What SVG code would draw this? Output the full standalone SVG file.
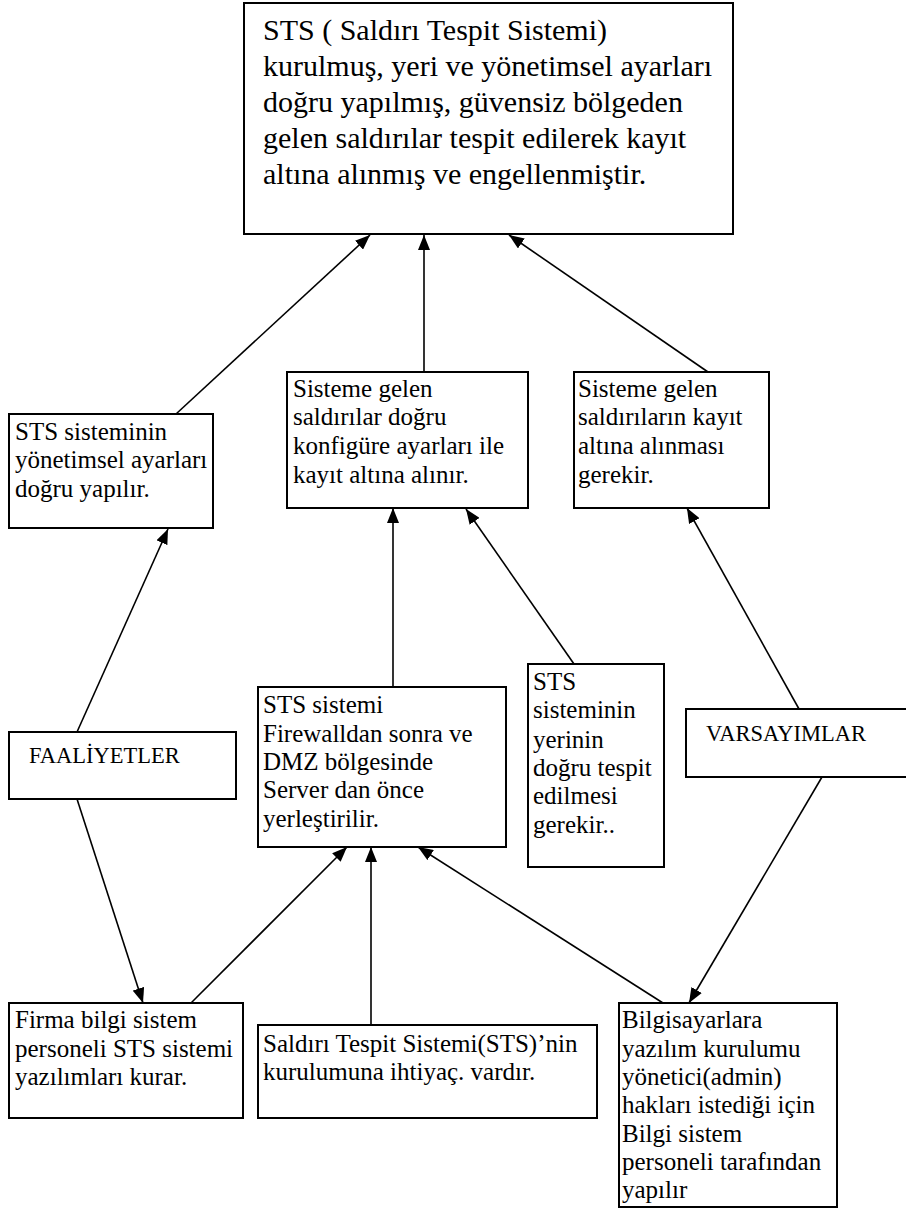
<svg xmlns="http://www.w3.org/2000/svg" width="906" height="1209" viewBox="0 0 906 1209">
<style>
.box{fill:#fff;stroke:#000;stroke-width:2}
.t{font-family:"Liberation Serif","Times New Roman",serif;font-size:25px;fill:#000}
.big{font-size:30px}
.mid{font-size:22.5px}
.c{stroke:#000;stroke-width:1.6;fill:none;marker-end:url(#ah)}
</style>
<defs>
<marker id="ah" markerUnits="userSpaceOnUse" markerWidth="15" markerHeight="12" refX="15" refY="6" orient="auto">
<path d="M0,0 L15,6 L0,12 z" fill="#000"/>
</marker>
</defs>
<rect width="906" height="1209" fill="#fff"/>
<g id="connectors">
<line class="c" x1="176" y1="414" x2="370" y2="235"/>
<line class="c" x1="424" y1="372" x2="424" y2="235"/>
<line class="c" x1="708" y1="372" x2="509" y2="235"/>
<line class="c" x1="77" y1="732" x2="168" y2="529"/>
<line class="c" x1="393" y1="687" x2="393" y2="508"/>
<line class="c" x1="574" y1="664" x2="466" y2="509"/>
<line class="c" x1="799" y1="709" x2="687" y2="508"/>
<line class="c" x1="77" y1="799" x2="143" y2="1003"/>
<line class="c" x1="191" y1="1003" x2="347" y2="847"/>
<line class="c" x1="371" y1="1025" x2="371" y2="847"/>
<line class="c" x1="663" y1="1003" x2="418" y2="847"/>
<line class="c" x1="822" y1="777" x2="689" y2="1003"/>
</g>
<g id="goal">
<rect class="box" x="244" y="3" width="489" height="231"/>
<text class="t big" x="263" y="40">STS ( Saldırı Tespit Sistemi)</text>
<text class="t big" x="263" y="76">kurulmuş, yeri ve yönetimsel ayarları</text>
<text class="t big" x="263" y="112">doğru yapılmış, güvensiz bölgeden</text>
<text class="t big" x="263" y="148">gelen saldırılar tespit edilerek kayıt</text>
<text class="t big" x="263" y="184">altına alınmış ve engellenmiştir.</text>
</g>
<g id="out1">
<rect class="box" x="9" y="414" width="204" height="114"/>
<text class="t" x="15" y="440">STS sisteminin</text>
<text class="t" x="15" y="468">yönetimsel ayarları</text>
<text class="t" x="15" y="497">doğru yapılır.</text>
</g>
<g id="out2">
<rect class="box" x="287" y="372" width="241" height="136"/>
<text class="t" x="293" y="397">Sisteme gelen</text>
<text class="t" x="293" y="425">saldırılar doğru</text>
<text class="t" x="293" y="454">konfigüre ayarları ile</text>
<text class="t" x="293" y="483">kayıt altına alınır.</text>
</g>
<g id="out3">
<rect class="box" x="574" y="372" width="195" height="136"/>
<text class="t" x="578" y="397">Sisteme gelen</text>
<text class="t" x="578" y="425">saldırıların kayıt</text>
<text class="t" x="578" y="454">altına alınması</text>
<text class="t" x="578" y="483">gerekir.</text>
</g>
<g id="faaliyetler">
<rect class="box" x="9" y="732" width="227" height="67"/>
<text class="t mid" x="29" y="763">FAALİYETLER</text>
</g>
<g id="act1">
<rect class="box" x="258" y="687" width="248" height="160"/>
<text class="t" x="263" y="713">STS sistemi</text>
<text class="t" x="263" y="742">Firewalldan sonra ve</text>
<text class="t" x="263" y="770">DMZ bölgesinde</text>
<text class="t" x="263" y="798">Server dan önce</text>
<text class="t" x="263" y="827">yerleştirilir.</text>
</g>
<g id="ass1">
<rect class="box" x="528" y="664" width="136" height="203"/>
<text class="t" x="533" y="690">STS</text>
<text class="t" x="533" y="718">sisteminin</text>
<text class="t" x="533" y="748">yerinin</text>
<text class="t" x="533" y="776">doğru tespit</text>
<text class="t" x="533" y="804">edilmesi</text>
<text class="t" x="533" y="833">gerekir..</text>
</g>
<g id="varsayimlar">
<rect class="box" x="686" y="709" width="222" height="68"/>
<text class="t mid" x="706" y="741">VARSAYIMLAR</text>
</g>
<g id="in1">
<rect class="box" x="9" y="1003" width="234" height="115"/>
<text class="t" x="15" y="1028">Firma bilgi sistem</text>
<text class="t" x="15" y="1057">personeli STS sistemi</text>
<text class="t" x="15" y="1085">yazılımları kurar.</text>
</g>
<g id="in2">
<rect class="box" x="258" y="1025" width="339" height="93"/>
<text class="t" x="263" y="1052">Saldırı Tespit Sistemi(STS)’nin</text>
<text class="t" x="263" y="1080">kurulumuna ihtiyaç. vardır.</text>
</g>
<g id="in3">
<rect class="box" x="619" y="1003" width="218" height="204"/>
<text class="t" x="622" y="1028">Bilgisayarlara</text>
<text class="t" x="622" y="1057">yazılım kurulumu</text>
<text class="t" x="622" y="1085">yönetici(admin)</text>
<text class="t" x="622" y="1113">hakları istediği için</text>
<text class="t" x="622" y="1142">Bilgi sistem</text>
<text class="t" x="622" y="1170">personeli tarafından</text>
<text class="t" x="622" y="1198">yapılır</text>
</g>
</svg>
